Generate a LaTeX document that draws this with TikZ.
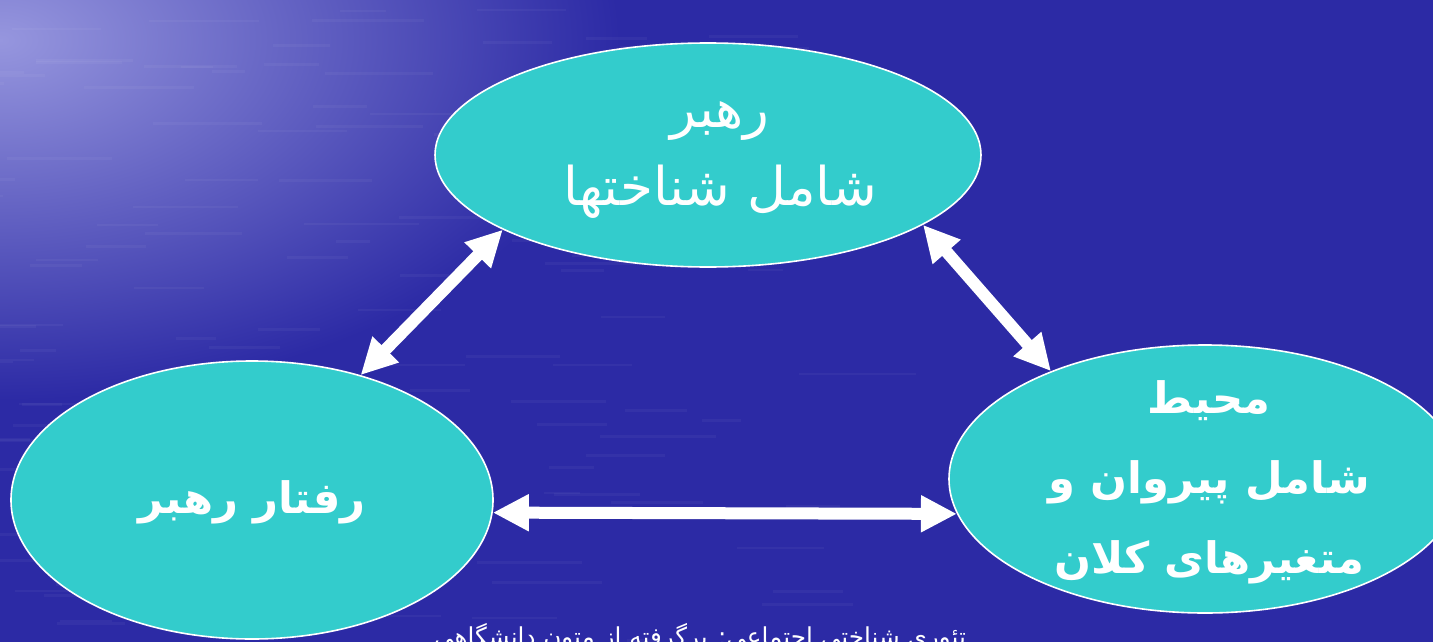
\documentclass[tikz,border=0pt]{standalone}
\usepackage{fontspec}
\newfontfamily\farsi[Script=Arabic]{DejaVu Sans}
\TeXXeTstate=1
\usetikzlibrary{shapes.geometric,arrows.meta}

\definecolor{seablue}{RGB}{44,42,165}
\definecolor{seafoam}{RGB}{150,150,222}
\definecolor{blobfill}{RGB}{51,204,204}

\tikzset{blob/.style={ellipse, draw=white, line width=1.2pt, fill=blobfill, inner sep=0pt}}
\tikzset{plain/.style={text=white, align=center, font=\farsi\fontsize{40}{58}\selectfont}}
\tikzset{heavy/.style={text=white, align=center, font=\farsi\bfseries\fontsize{32.5}{60}\selectfont}}
\tikzset{link/.style={white, line width=9pt,
    {Triangle[length=27pt,width=26pt]}-{Triangle[length=27pt,width=26pt]}}}

\begin{document}
\begin{tikzpicture}[x=0.75pt, y=-0.75pt]
  \useasboundingbox (0,0) rectangle (1433,642);
  \begin{scope}
    \clip (0,0) rectangle (1433,642);

    % sea background
    \fill[seablue] (0,0) rectangle (1433,642);
    \shade[inner color=seafoam, outer color=seablue] (0,40) ellipse [x radius=620, y radius=360];
    \pgfmathsetseed{7}
    \foreach \i in {1,...,140}{
      \pgfmathsetmacro{\sx}{rnd*900-100}
      \pgfmathsetmacro{\sy}{rnd*642}
      \pgfmathsetmacro{\sl}{30+rnd*90}
      \draw[white, opacity=0.04, line width=2pt] (\sx,\sy) -- ++(\sl,0);
    }

    % the three ellipses
    \node[blob, minimum width=409.5pt, minimum height=168pt] (lead) at (708,155) {};
    \node[blob, minimum width=361.5pt, minimum height=208.5pt] (behav) at (252,500) {};
    \node[blob, minimum width=384pt, minimum height=201pt] (env) at (1205,479) {};

    \node[plain] (leadtxt) at (720,160) {\beginR رهبر\endR\\\beginR شامل شناختها\endR};
    \node[heavy] (behavtxt) at (252,502) {\beginR رفتار رهبر\endR};
    \node[heavy] (envtxt) at (1209,482) {\beginR محیط\endR\\\beginR شامل پیروان و\endR\\\beginR متغیرهای کلان\endR};

    % two-way links
    \draw[link] (behav.49) -- (lead.200);
    \draw[link] (lead.342) -- (env.145);
    \draw[link] (behav.357) -- (env.188);

    \node[plain, font=\farsi\fontsize{18.5}{22}\selectfont, anchor=base] (credit) at (700,645)
      {\beginR تئوری شناختی اجتماعی: برگرفته از متون دانشگاهی\endR};
  \end{scope}
\end{tikzpicture}
\end{document}
